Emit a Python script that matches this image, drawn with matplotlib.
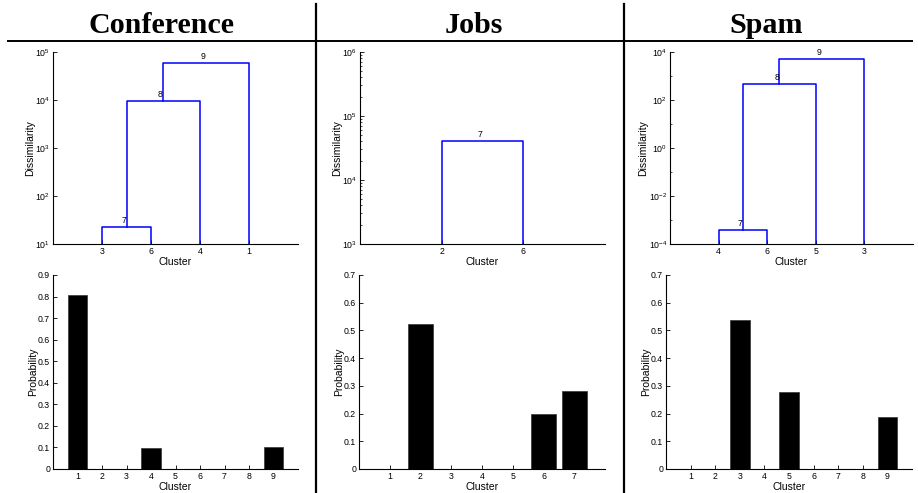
import numpy as np
import matplotlib
matplotlib.use("Agg")
import matplotlib.pyplot as plt
from matplotlib.lines import Line2D
from matplotlib.ticker import FixedLocator, FuncFormatter, NullFormatter

plt.rcParams['font.family'] = ['Liberation Sans', 'DejaVu Sans']
plt.rcParams['mathtext.fontset'] = 'custom'
plt.rcParams['mathtext.rm'] = 'Liberation Sans'
plt.rcParams['mathtext.it'] = 'Liberation Sans:italic'

titles = ['Conference', 'Jobs', 'Spam']

# dendrograms: leaf order, merges (pairs of node ids), merged node ids, heights
conf_leaves = [3, 6, 4, 1]
conf_merges = [(3, 6), (7, 4), (8, 1)]
conf_nodes = [7, 8, 9]
conf_heights = [23, 9.7e3, 5.9e4]

jobs_leaves = [2, 6]
jobs_merges = [(2, 6)]
jobs_nodes = [7]
jobs_heights = [4.0e4]

spam_leaves = [4, 6, 5, 3]
spam_merges = [(4, 6), (7, 5), (8, 3)]
spam_nodes = [7, 8, 9]
spam_heights = [3.7e-4, 4.6e2, 5.0e3]

# cluster probabilities
conf_prob = [0.805, 0, 0, 0.096, 0, 0, 0, 0, 0.100]
jobs_prob = [0, 0.523, 0, 0, 0, 0.200, 0.280]
spam_prob = [0, 0, 0.537, 0, 0.277, 0, 0, 0, 0.187]

W, H = 918, 493
fig = plt.figure(figsize=(W / 100, H / 100), dpi=100)


def rect(l, t, r, b):
    return [l / W, 1 - b / H, (r - l) / W, (b - t) / H]


def style(ax):
    ax.spines['top'].set_visible(False)
    ax.spines['right'].set_visible(False)
    for s in ['left', 'bottom']:
        ax.spines[s].set_linewidth(0.8)
    ax.tick_params(direction='in', length=3, width=0.6, labelsize=6.3, pad=2)
    ax.tick_params(which='minor', direction='in', length=1.5, width=0.5)


def log_fmt(v, pos):
    return r'$10^{%d}$' % int(round(np.log10(v)))


def dendro(ax, leaves, merges, nodes, heights, ylim, major, minor):
    xpos = {leaf: i + 1 for i, leaf in enumerate(leaves)}
    ypos = {leaf: ylim[0] for leaf in leaves}
    for (a, b), n, h in zip(merges, nodes, heights):
        xa, xb = xpos[a], xpos[b]
        ax.plot([xa, xa, xb, xb], [ypos[a], h, h, ypos[b]], color='#0000ff', lw=1.1)
        xpos[n] = (xa + xb) / 2
        ypos[n] = h
        ax.annotate(str(n), ((xa + xb) / 2, h), xytext=(-2, 1.5), textcoords='offset points',
                    ha='center', va='bottom', fontsize=6.3)
    ax.set_yscale('log')
    ax.set_ylim(ylim)
    ax.set_xlim(0, len(leaves) + 1)
    ax.set_xticks(range(1, len(leaves) + 1))
    ax.set_xticklabels([str(l) for l in leaves])
    ax.yaxis.set_major_locator(FixedLocator(major))
    ax.yaxis.set_major_formatter(FuncFormatter(log_fmt))
    ax.yaxis.set_minor_locator(FixedLocator(minor))
    ax.yaxis.set_minor_formatter(NullFormatter())
    ax.set_xlabel('Cluster', fontsize=7.5, labelpad=1)
    ax.set_ylabel('Dissimilarity', fontsize=7.5, labelpad=0)
    style(ax)


def bars(ax, prob, ymax):
    n = len(prob)
    x = np.arange(1, n + 1)
    ax.bar(x, prob, width=0.8, color='black', edgecolor='#333333', linewidth=0.5)
    ax.set_xlim(0, n + 1)
    ax.set_ylim(0, ymax)
    ax.set_xticks(x)
    ax.set_yticks(np.round(np.arange(0, ymax + 0.01, 0.1), 1))
    ax.yaxis.set_major_formatter(FuncFormatter(lambda v, p: '%g' % v))
    ax.set_xlabel('Cluster', fontsize=7.5, labelpad=1)
    ax.set_ylabel('Probability', fontsize=7.5, labelpad=0)
    style(ax)


ax1 = fig.add_axes(rect(53, 52, 298, 244))
dendro(ax1, conf_leaves, conf_merges, conf_nodes, conf_heights, (1e1, 1e5),
       [1e1, 1e2, 1e3, 1e4, 1e5], [])

jobs_minor = [m * 10.0 ** e for e in range(3, 6) for m in range(2, 10)]
ax2 = fig.add_axes(rect(360, 52, 605, 244))
dendro(ax2, jobs_leaves, jobs_merges, jobs_nodes, jobs_heights, (1e3, 1e6),
       [1e3, 1e4, 1e5, 1e6], jobs_minor)

ax3 = fig.add_axes(rect(670, 52, 913, 244))
dendro(ax3, spam_leaves, spam_merges, spam_nodes, spam_heights, (1e-4, 1e4),
       [1e-4, 1e-2, 1e0, 1e2, 1e4], [1e-3, 1e-1, 1e1, 1e3])

ax4 = fig.add_axes(rect(53, 275, 298, 469))
bars(ax4, conf_prob, 0.9)
ax5 = fig.add_axes(rect(359, 275, 605, 469))
bars(ax5, jobs_prob, 0.7)
ax6 = fig.add_axes(rect(666, 275, 912, 469))
bars(ax6, spam_prob, 0.7)

# table header and separators
for t, cx in zip(titles, [161, 474, 766]):
    fig.text(cx / W, 1 - 33 / H, t, ha='center', va='baseline', fontsize=21.6,
             fontweight='bold', family='Liberation Serif')
fig.add_artist(Line2D([8 / W, 912 / W], [1 - 41 / H, 1 - 41 / H], color='black', lw=1.4))
for vx in [316, 624]:
    fig.add_artist(Line2D([vx / W, vx / W], [1 - 4 / H, 0], color='black', lw=1.6))

fig.savefig('out.png', dpi=100)
